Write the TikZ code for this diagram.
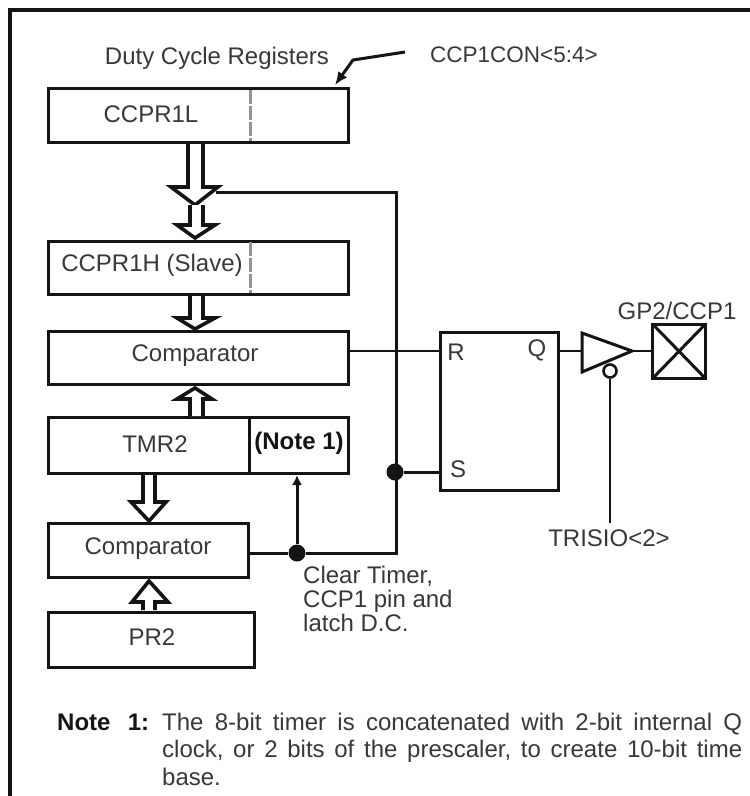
\documentclass[tikz,border=0pt]{standalone}
\usepackage{fontspec}
\setmainfont{Liberation Sans}
\usetikzlibrary{arrows.meta}
\definecolor{ink}{gray}{0.08}
\definecolor{txt}{gray}{0.22}
\tikzset{
  x=1pt,y=-1pt,
  reg/.style={draw=ink,line width=3pt,outer sep=0pt,minimum width=#1,anchor=north west,inner sep=0pt},
  lab/.style={text=txt,font=\fontsize{24}{28}\selectfont,inner sep=0pt},
  wire/.style={draw=ink,line width=3pt},
  thinwire/.style={draw=ink,line width=1.6pt},
  fat/.style={draw=ink,line width=3.6pt,fill=white,line join=miter},
  junction/.style={circle,fill=ink,minimum size=17pt,inner sep=0pt},
  split/.style={draw=gray!85,line width=3pt,dash pattern=on 14pt off 2pt}
}
\begin{document}
\begin{tikzpicture}
\useasboundingbox (0,0) rectangle (750,796);
\fill[white] (0,0) rectangle (750,796);
\draw[ink,line width=3.4pt] (10,796) -- (10,10) -- (750,10);

% boxes
\node[reg=300.5pt,minimum height=54pt] (ccprl) at (48.3,88.7) {};
\node[reg=300.5pt,minimum height=53.5pt] (ccprh) at (48.3,241) {};
\node[reg=300.5pt,minimum height=53pt] (cmpa) at (48.3,331.5) {};
\node[reg=300.5pt,minimum height=56pt] (tmr) at (48.3,417.5) {};
\node[reg=200.2pt,minimum height=53.5pt] (cmpb) at (48.3,523.5) {};
\node[reg=206.2pt,minimum height=55pt] (pr) at (48.3,612) {};
\node[reg=118pt,minimum height=158.5pt] (latch) at (440.5,332) {};
\node[reg=53pt,minimum height=54.5pt] (pad) at (652.5,324) {};
\draw[ink,line width=3pt] (pad.north west) -- (pad.south east) (pad.north east) -- (pad.south west);

% dividers
\draw[split] (250,90) -- (250,141);
\draw[split] (250,242) -- (250,293);
\draw[ink,line width=3pt] (249,417.5) -- (249,473.5);

% labels
\node[lab] (t1) at (217,58) {Duty Cycle Registers};
\node[lab,anchor=west,font=\fontsize{22.5}{27}\selectfont] (t2) at (430,55) {CCP1CON<5:4>};
\node[lab] at (151,114) {CCPR1L};
\node[lab] at (152,265) {CCPR1H (Slave)};
\node[lab] at (195,356) {Comparator};
\node[lab] at (155,444) {TMR2};
\node[lab,font=\fontsize{24}{28}\selectfont\bfseries,text=ink] at (299,443) {(Note 1)};
\node[lab] at (148,549) {Comparator};
\node[lab] at (152,637) {PR2};
\node[lab] at (456,352) {R};
\node[lab] at (537,350) {Q};
\node[lab] at (458,469) {S};
\node[lab] (gp) at (677,311) {GP2/CCP1};
\node[lab] (tris) at (609,538) {TRISIO<2>};
\node[lab,anchor=base west] at (303,583) {Clear Timer,};
\node[lab,anchor=base west] at (303,607) {CCP1 pin and};
\node[lab,anchor=base west] at (303,631) {latch D.C.};

% note
\node[lab,anchor=base west,text=ink,font=\fontsize{24}{28}\selectfont\bfseries] at (57,730) {\hbox to 92pt{Note\hfil 1:}};
\node[lab,anchor=base west] at (162,730) {\hbox to 580pt{The\hfil 8-bit\hfil timer\hfil is\hfil concatenated\hfil with\hfil 2-bit\hfil internal\hfil Q}};
\node[lab,anchor=base west] at (162,757) {\hbox to 580pt{clock,\hfil or\hfil 2\hfil bits\hfil of\hfil the\hfil prescaler,\hfil to\hfil create\hfil 10-bit\hfil time}};
\node[lab,anchor=base west] at (162,785) {base.};

% fat arrows
\draw[fat] (188,144) -- (188,187) -- (171,187) -- (195,205) -- (218,187) -- (203,187) -- (203,144);
\draw[fat] (190,205) -- (190,225) -- (177,225) -- (195,238) -- (215,225) -- (203,225) -- (203,205);
\draw[fat] (190,296) -- (190,318) -- (177,318) -- (195,329) -- (215,318) -- (203,318) -- (203,296);
\draw[fat] (190,416) -- (190,399) -- (177,399) -- (195,388) -- (212,399) -- (203,399) -- (203,416);
\draw[fat] (143,475) -- (143,502) -- (131,502) -- (149,521) -- (166,502) -- (155,502) -- (155,475);
\draw[fat] (143,610) -- (143,602) -- (132,602) -- (149,581) -- (168,602) -- (155,602) -- (155,610);

% wires
\coordinate (feed) at (216,192);
\node[junction] (ja) at (297,553) {};
\node[junction] (jb) at (395,472) {};
\coordinate (top) at (396,192);
\draw[wire] (feed) -- (top) -- (top |- ja) -- (ja);
\draw[wire] (cmpb.east |- ja) -- (ja);
\draw[wire] (jb) -- (latch.west |- jb);
\draw[wire,-{Latex[length=10pt,width=10pt]}] (ja) -- (297,475);
\coordinate (rin) at (440.5,351);
\draw[thinwire] (cmpa.east |- rin) -- (rin);

% tristate buffer
\coordinate (bufa) at (582,333);
\coordinate (bufb) at (632,351);
\coordinate (bufc) at (582,372);
\draw[ink,line width=3pt,line join=miter] (bufa) -- (bufb) -- (bufc) -- cycle;
\node[circle,draw=ink,line width=2.6pt,fill=white,minimum size=13pt,inner sep=0pt] (inv) at (610,371) {};
\draw[thinwire] (latch.east |- bufb) -- (582,351);
\draw[thinwire] (bufb) -- (pad.west |- bufb);
\draw[thinwire] (inv) -- (610,523);

% pointer
\coordinate (pa) at (405,52);
\coordinate (pb) at (353,60);
\coordinate (pc) at (335,85);
\draw[ink,line width=3pt,-{Latex[length=13pt,width=11pt]}] (pa) -- (pb) -- (pc);
\end{tikzpicture}
\end{document}
